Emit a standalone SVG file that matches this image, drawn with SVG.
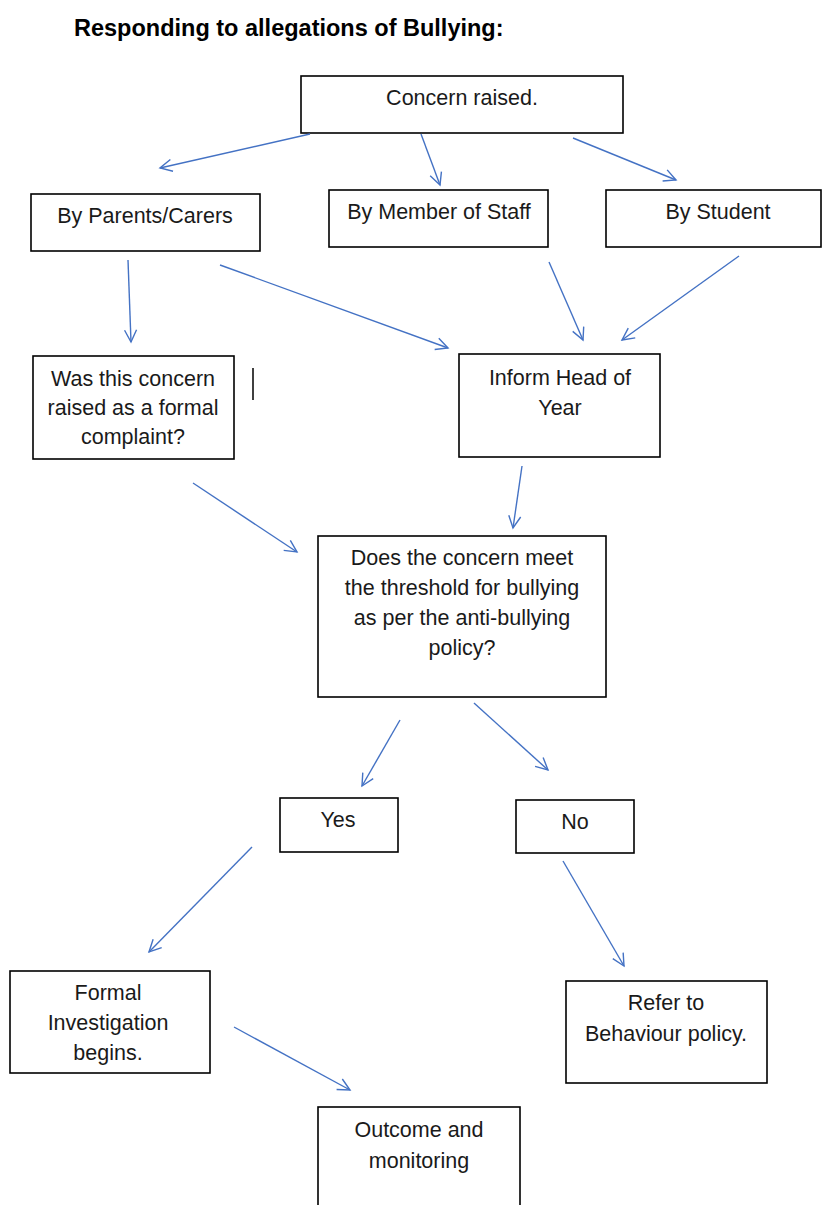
<svg xmlns="http://www.w3.org/2000/svg" width="822" height="1205" viewBox="0 0 822 1205">
<style>
.box{fill:#fff;stroke:#000;stroke-width:1.6}
.t{font-family:"Liberation Sans",Arial,sans-serif;font-size:21.5px;fill:#1a1a1a;text-anchor:middle}
.title{font-family:"Liberation Sans",Arial,sans-serif;font-size:23.5px;font-weight:bold;fill:#000}
.c line{stroke:#4472C4;stroke-width:1.4;marker-end:url(#ah)}
</style>
<defs>
<marker id="ah" markerUnits="userSpaceOnUse" markerWidth="16" markerHeight="16" viewBox="0 0 16 16" refX="14" refY="8" orient="auto">
<path d="M2,2 L14,8 L2,14" fill="none" stroke="#4472C4" stroke-width="1.4"/>
</marker>
</defs>
<rect width="822" height="1205" fill="#fff"/>
<text class="title" x="74" y="36">Responding to allegations of Bullying:</text>

<g id="concern"><rect class="box" x="301" y="76" width="322" height="57"/><text class="t" x="462" y="105">Concern raised.</text></g>
<g id="parents"><rect class="box" x="31" y="194" width="229" height="57"/><text class="t" x="145" y="223">By Parents/Carers</text></g>
<g id="staff"><rect class="box" x="329" y="190" width="219" height="57"/><text class="t" x="439" y="219">By Member of Staff</text></g>
<g id="student"><rect class="box" x="606" y="190" width="215" height="57"/><text class="t" x="718" y="219">By Student</text></g>
<g id="formal"><rect class="box" x="33" y="356" width="201" height="103"/><text class="t" x="133" y="386">Was this concern</text><text class="t" x="133" y="415">raised as a formal</text><text class="t" x="133" y="444">complaint?</text></g>
<g id="cursor"><line x1="253" y1="368" x2="253" y2="400" stroke="#000" stroke-width="1.5"/></g>
<g id="hoy"><rect class="box" x="459" y="354" width="201" height="103"/><text class="t" x="560" y="385">Inform Head of</text><text class="t" x="560" y="415">Year</text></g>
<g id="threshold"><rect class="box" x="318" y="536" width="288" height="161"/><text class="t" x="462" y="565">Does the concern meet</text><text class="t" x="462" y="595">the threshold for bullying</text><text class="t" x="462" y="625">as per the anti-bullying</text><text class="t" x="462" y="655">policy?</text></g>
<g id="yes"><rect class="box" x="280" y="798" width="118" height="54"/><text class="t" x="338" y="827">Yes</text></g>
<g id="no"><rect class="box" x="516" y="800" width="118" height="53"/><text class="t" x="575" y="829">No</text></g>
<g id="investigation"><rect class="box" x="10" y="971" width="200" height="102"/><text class="t" x="108" y="1000">Formal</text><text class="t" x="108" y="1030">Investigation</text><text class="t" x="108" y="1060">begins.</text></g>
<g id="behaviour"><rect class="box" x="566" y="981" width="201" height="102"/><text class="t" x="666" y="1010">Refer to</text><text class="t" x="666" y="1041">Behaviour policy.</text></g>
<g id="outcome"><rect class="box" x="318" y="1107" width="202" height="110"/><text class="t" x="419" y="1137">Outcome and</text><text class="t" x="419" y="1168">monitoring</text></g>

<g id="connectors" class="c">
<line x1="310" y1="134" x2="160" y2="168"/>
<line x1="421" y1="134" x2="440" y2="185"/>
<line x1="573" y1="138" x2="676" y2="180"/>
<line x1="128" y1="260" x2="131" y2="342"/>
<line x1="220" y1="265" x2="448" y2="348"/>
<line x1="549" y1="262" x2="583" y2="340"/>
<line x1="739" y1="256" x2="622" y2="340"/>
<line x1="193" y1="483" x2="297" y2="552"/>
<line x1="522" y1="466" x2="513" y2="528"/>
<line x1="400" y1="720" x2="362" y2="786"/>
<line x1="474" y1="703" x2="548" y2="770"/>
<line x1="252" y1="847" x2="149" y2="952"/>
<line x1="563" y1="861" x2="624" y2="966"/>
<line x1="234" y1="1027" x2="350" y2="1090"/>
</g>
</svg>
